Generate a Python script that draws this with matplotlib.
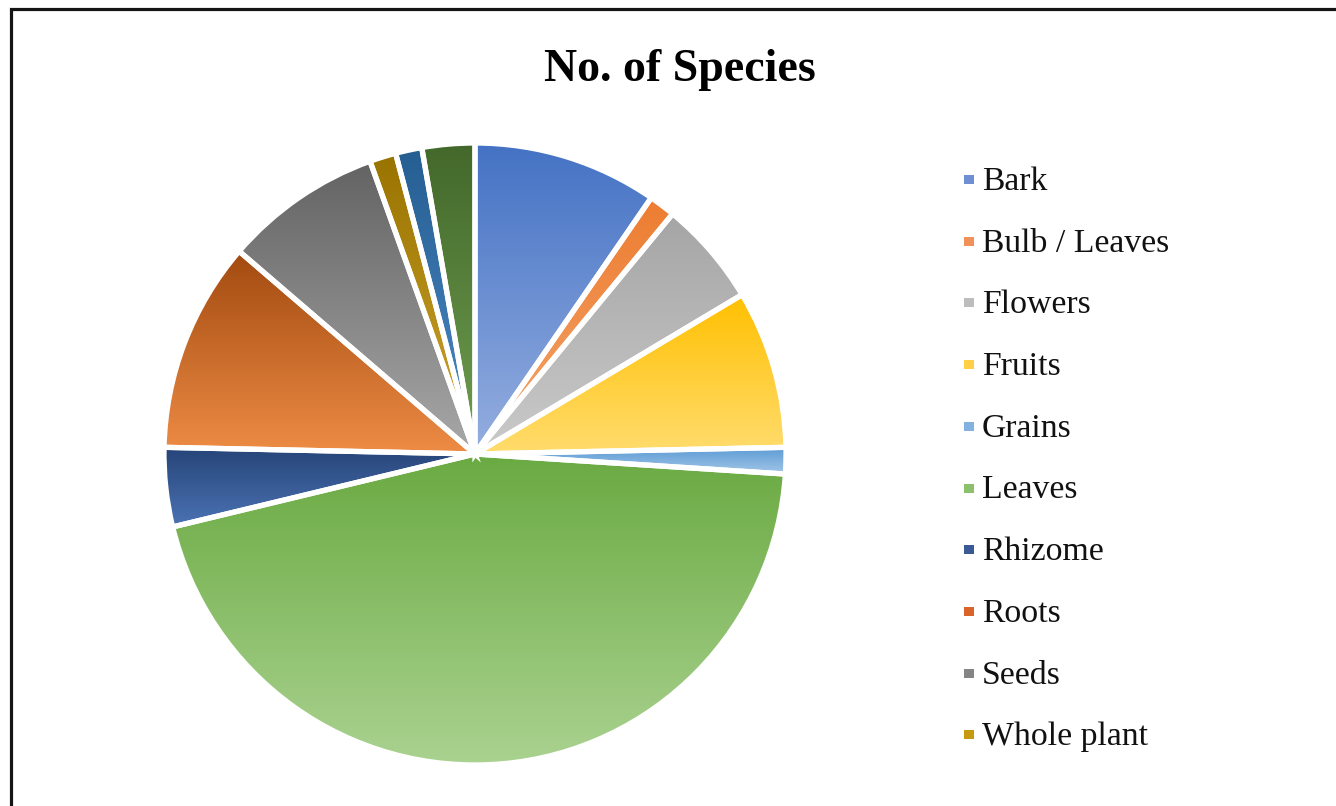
import numpy as np
import matplotlib
matplotlib.use("Agg")
import matplotlib.pyplot as plt
from matplotlib.colors import to_rgb
from matplotlib.patches import Rectangle

# ---- data ----
categories = ["Bark", "Bulb / Leaves", "Flowers", "Fruits", "Grains", "Leaves",
              "Rhizome", "Roots", "Seeds", "Whole plant", "Other A", "Other B"]
species = [7, 1, 4, 6, 1, 33, 3, 8, 6, 1, 1, 2]
legend_categories = categories[:10]
title = "No. of Species"

top_colors = ["#4472C4", "#ED7D31", "#A5A5A5", "#FFC000", "#5B9BD5", "#6AAA42",
              "#264478", "#A24A10", "#636363", "#997300", "#255E91", "#43682B"]
bottom_colors = ["#95AEE0", "#F4A46C", "#CACACA", "#FFDC6E", "#A3C6E8", "#AAD290",
                 "#4C73B4", "#EE8C45", "#A8A8A8", "#CFA630", "#4E8BC8", "#6F9E50"]
legend_colors = ["#6F8FD2", "#F0915A", "#BDBDBD", "#FFCF45", "#83B2E0", "#8DC06A",
                 "#3A5A95", "#D8642A", "#858585", "#C59A10"]

W, H = 1336, 806
fig = plt.figure(figsize=(W / 100, H / 100), dpi=100)
fig.patch.set_facecolor("white")

cx, cy, r = 475, 454, 311
ax = fig.add_axes([(cx - r) / W, (H - cy - r) / H, 2 * r / W, 2 * r / H])

wedges, _ = ax.pie(species, startangle=90, counterclock=False, radius=1,
                   colors=top_colors, wedgeprops=dict(linewidth=0, zorder=1))

for w, c_top, c_bot in zip(wedges, top_colors, bottom_colors):
    bb = w.get_path().get_extents()
    t = np.linspace(0, 1, 256)[:, None]
    a = np.array(to_rgb(c_top))[None, :]
    b = np.array(to_rgb(c_bot))[None, :]
    col = a * (1 - t) + b * t
    img = np.repeat(col[:, None, :], 2, axis=1)
    im = ax.imshow(img, extent=(bb.x0, bb.x1, bb.y0, bb.y1), origin="upper",
                   aspect="auto", interpolation="bilinear", zorder=2)
    im.set_clip_path(w)

ax.pie(species, startangle=90, counterclock=False, radius=1,
       wedgeprops=dict(facecolor="none", edgecolor="white", linewidth=3.8,
                       zorder=3))

ax.set_xlim(-1, 1)
ax.set_ylim(-1, 1)
ax.set_aspect("equal")
ax.axis("off")

# title
fig.text(680 / W, 1 - 81 / H, title, ha="center", va="baseline",
         fontsize=33, fontweight="bold", family="Liberation Serif")

# legend
y0, dy = 190, 61.7
for i, (name, c) in enumerate(zip(legend_categories, legend_colors)):
    yb = y0 + i * dy
    fig.text(982 / W, 1 - yb / H, name, ha="left", va="baseline",
             fontsize=24.3, family="Liberation Serif", color="#111111")
    fig.add_artist(Rectangle(((964) / W, 1 - (yb - 6) / H), 10 / W, 9 / H,
                             transform=fig.transFigure, facecolor=c,
                             edgecolor="none"))

# frame border
fig.add_artist(Rectangle((11 / W, -0.05), 1.1, 1 - 9.5 / H + 0.05,
                         transform=fig.transFigure, facecolor="none",
                         edgecolor="#151515", linewidth=2.3))

fig.savefig("out.png", dpi=100)
